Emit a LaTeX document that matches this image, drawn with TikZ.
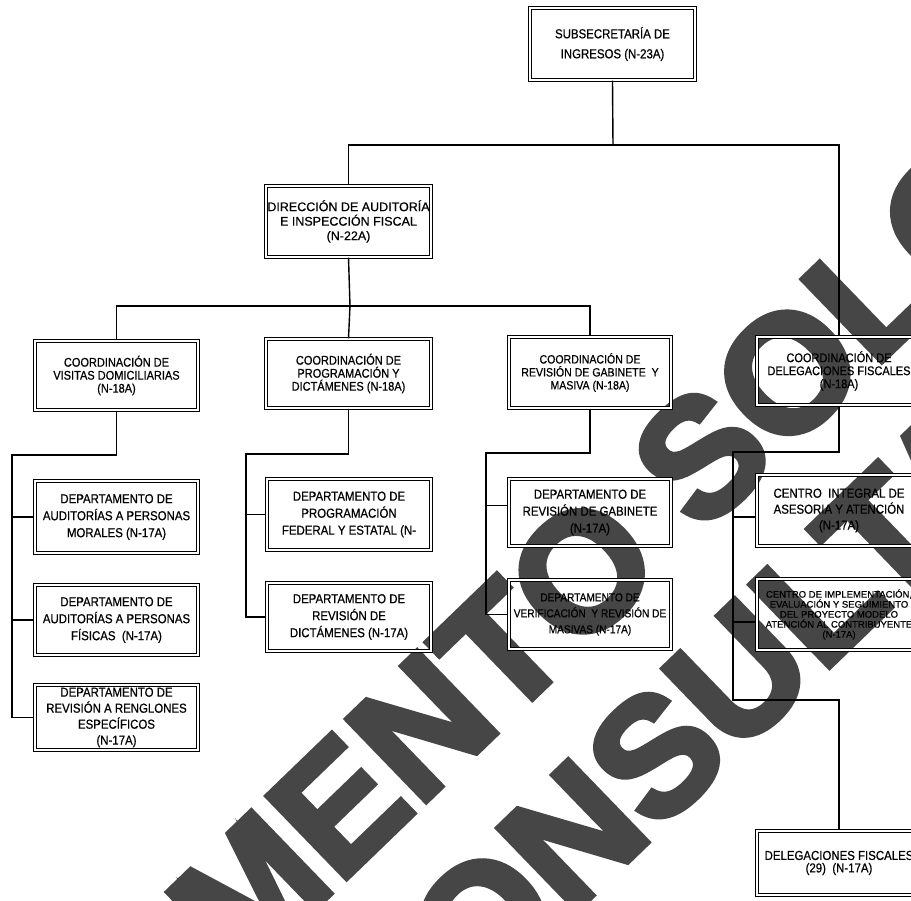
\documentclass[tikz,border=0pt]{standalone}
\usepackage{fontspec}
\setmainfont{Liberation Sans}
\newfontfamily\orgnarrow[FakeStretch=0.88,FakeBold=0.6]{Liberation Sans}
\newfontfamily\orgwide[FakeBold=0.6]{Liberation Sans}
\newfontfamily\stampfont[BoldFeatures={FakeBold=3.5}]{Liberation Sans}
\definecolor{stampgray}{RGB}{70,70,70}

\begin{document}
\begin{tikzpicture}[x=1pt,y=-1pt,
  orgbox/.style={draw=black, line width=1.1pt, double=white, double distance=1.8pt,
                 inner sep=0pt, align=center, text=black},
  coord/.style={orgbox, font=\orgnarrow\fontsize{12.5}{13}\selectfont},
  dept/.style={orgbox, font=\orgnarrow\fontsize{13}{17}\selectfont},
  link/.style={draw=black, line width=1.4pt},
  stamp/.style={rotate=44, text=stampgray, inner sep=0pt,
                font=\stampfont\bfseries\fontsize{166}{166}\selectfont}
]
\useasboundingbox (0,0) rectangle (911,901);
\fill[white] (0,0) rectangle (911,901);
\begin{scope}
\clip (0,0) rectangle (911,901);

% ---------- stamp lettering laid under the chart ----------
\node[stamp] (wm1) at (424,724) {DOCUMENTO SOLO};
\node[stamp] (wm2) at (574,834) {DE CONSULTA};

% ---------- boxes ----------
\node[orgbox, minimum width=165pt, minimum height=72pt,
      font=\orgnarrow\fontsize{13}{20}\selectfont] (sub) at (612.5,44)
      {SUBSECRETARÍA DE\\INGRESOS (N-23A)};
\node[orgbox, minimum width=165pt, minimum height=71pt,
      font=\orgwide\fontsize{12.5}{14.5}\selectfont] (dir) at (348.5,221.5)
      {DIRECCIÓN DE AUDITORÍA\\E INSPECCIÓN FISCAL\\(N-22A)};

\node[coord, minimum width=163pt, minimum height=69pt] (cv) at (116.5,375.5)
      {COORDINACIÓN DE\\VISITAS DOMICILIARIAS\\(N-18A)};
\node[coord, minimum width=165pt, minimum height=69pt] (cp) at (348.5,373.5)
      {COORDINACIÓN DE\\PROGRAMACIÓN Y\\DICTÁMENES (N-18A)};
\node[coord, minimum width=162pt, minimum height=71pt,
      font=\orgnarrow\fontsize{12}{13}\selectfont] (cg) at (590,372.5)
      {COORDINACIÓN DE\\REVISIÓN DE GABINETE~~Y\\MASIVA (N-18A)};
\node[coord, minimum width=164pt, minimum height=68pt] (cd) at (839,371)
      {COORDINACIÓN DE\\DELEGACIONES FISCALES\\(N-18A)};

\node[dept, minimum width=163pt, minimum height=72pt] (d1) at (116.5,517)
      {DEPARTAMENTO DE\\AUDITORÍAS A PERSONAS\\MORALES (N-17A)};
\node[dept, minimum width=163pt, minimum height=70pt] (d2) at (116.5,620)
      {DEPARTAMENTO DE\\AUDITORÍAS A PERSONAS\\FÍSICAS~~(N-17A)};
\node[dept, minimum width=163pt, minimum height=65pt,
      font=\orgnarrow\fontsize{13}{16}\selectfont] (d3) at (116.5,717.5)
      {DEPARTAMENTO DE\\REVISIÓN A RENGLONES\\ESPECÍFICOS\\(N-17A)};

\node[dept, minimum width=164pt, minimum height=71pt] (d4) at (349,514.5)
      {DEPARTAMENTO DE\\PROGRAMACIÓN\\FEDERAL Y ESTATAL (N-};
\node[dept, minimum width=164pt, minimum height=68pt] (d5) at (349,617)
      {DEPARTAMENTO DE\\REVISIÓN DE\\DICTÁMENES (N-17A)};

\node[dept, minimum width=162pt, minimum height=67pt] (d6) at (590,512.5)
      {DEPARTAMENTO DE\\REVISIÓN DE GABINETE\\(N-17A)};
\node[dept, minimum width=162pt, minimum height=69pt,
      font=\orgnarrow\fontsize{11.5}{16}\selectfont] (d7) at (590,614.5)
      {DEPARTAMENTO DE\\VERIFICACIÓN~~Y REVISIÓN DE\\MASIVAS (N-17A)};

\node[dept, minimum width=164pt, minimum height=71pt,
      font=\orgnarrow\fontsize{13}{16}\selectfont] (d8) at (839,510.5)
      {CENTRO~~INTEGRAL DE\\ASESORIA Y ATENCIÓN\\(N-17A)};
\node[dept, minimum width=164pt, minimum height=71pt,
      font=\orgwide\fontsize{9.5}{10}\selectfont] (d9) at (839,614.5)
      {CENTRO DE IMPLEMENTACIÓN,\\EVALUACIÓN Y SEGUIMIENTO\\DEL PROYECTO MODELO\\ATENCIÓN AL CONTRIBUYENTE\\(N-17A)};
\node[dept, minimum width=164pt, minimum height=64pt,
      font=\orgnarrow\fontsize{13}{12.5}\selectfont] (d10) at (839,863)
      {DELEGACIONES FISCALES\\(29)~~(N-17A)};

% ---------- connectors ----------
\coordinate (busA) at (613,145);
\coordinate (busB) at (350,306);
\coordinate (c1) at (12,455);
\coordinate (c2) at (246,454);
\coordinate (c3) at (486,453);
\coordinate (c4) at (733,452);
\coordinate (c4b) at (733,700);
% branch points that sit off the box middles
\coordinate (e6) at ([yshift=7pt]d6.west);
\coordinate (e8) at ([yshift=-6.5pt]d8.west);
\coordinate (e9) at ([yshift=-7.5pt]d9.west);

\draw[link] (sub.south) -- (busA);
\draw[link] (dir.north) -- (dir.north |- busA) -- (cd.north |- busA) -- (cd.north);

\draw[link] (dir.south) -- (busB);
\draw[link] (cv.north) -- (cv.north |- busB) -- (cg.north |- busB) -- (cg.north);
\draw[link] (busB) -- (cp.north);

\draw[link] (cv.south) -- (cv.south |- c1) -- (c1) -- (c1 |- d3.west) -- (d3.west);
\draw[link] (c1 |- d1.west) -- (d1.west);
\draw[link] (c1 |- d2.west) -- (d2.west);

\draw[link] (cp.south) -- (cp.south |- c2) -- (c2) -- (c2 |- d5.west) -- (d5.west);
\draw[link] (c2 |- d4.west) -- (d4.west);

\draw[link] (cg.south) -- (cg.south |- c3) -- (c3) -- (c3 |- d7.west) -- (d7.west);
\draw[link] (c3 |- e6) -- (e6);

\draw[link] (cd.south) -- (cd.south |- c4) -- (c4) -- (c4b) -- (d10.north |- c4b) -- (d10.north);
\draw[link] (c4 |- e8) -- (e8);
\draw[link] (c4 |- e9) -- (e9);
\end{scope}
\end{tikzpicture}
\end{document}
